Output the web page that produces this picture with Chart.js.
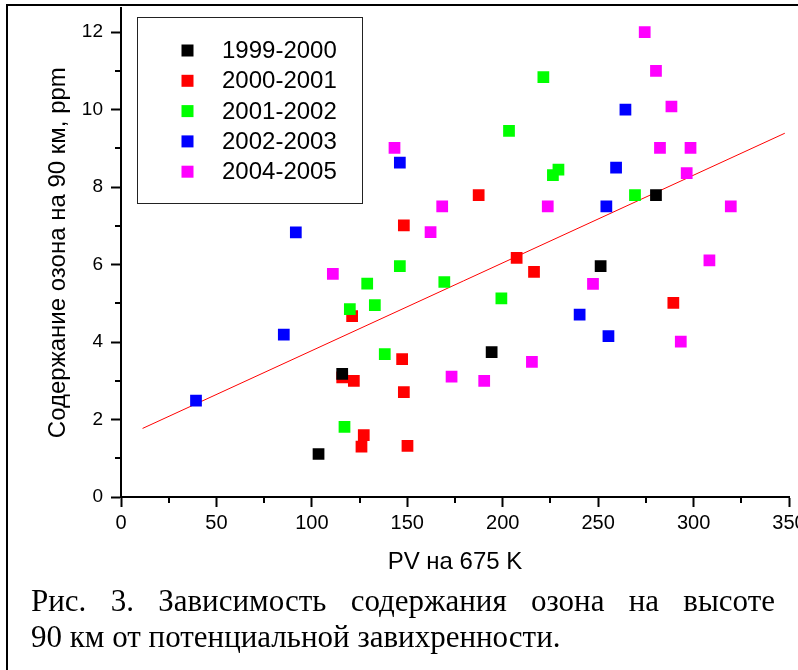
<!DOCTYPE html>
<html>
<head>
<meta charset="utf-8">
<script src="https://cdn.jsdelivr.net/npm/chart.js@4.4.0/dist/chart.umd.min.js"></script>
<style>
  html, body { margin: 0; padding: 0; background: #fff; overflow: hidden; }
  body { width: 798px; height: 670px; position: relative; }
  #frame { position: absolute; left: 6px; top: 4px; width: 900px; height: 800px;
           border-left: 2px solid #000; border-top: 2px solid #000; }
  #wrap { position: absolute; left: 0; top: 0; width: 830px; height: 600px; }
  .cap { position: absolute; left: 31px; font-family: "Liberation Serif", "Times New Roman", serif;
         font-size: 31px; line-height: 36px; color: #000; }
  #cap1 { top: 583px; width: 744px; text-align: justify; text-align-last: justify; }
  #cap2 { top: 619px; white-space: nowrap; }
</style>
</head>
<body>
<div id="frame"></div>
<div id="wrap"><canvas id="chart"></canvas></div>
<div class="cap" id="cap1">Рис. 3. Зависимость содержания озона на высоте</div>
<div class="cap" id="cap2">90 км от потенциальной завихренности.</div>
<script>
// series names / colours
const seriesNames = ['1999-2000', '2000-2001', '2001-2002', '2002-2003', '2004-2005'];
const seriesColors = ['#000000', '#ff0000', '#00ff00', '#0000ff', '#ff00ff'];

// PV at 675 K (x) and ozone at 90 km, ppm (y)
const pv1999 = [103.5, 115.9, 194.2, 251.3, 280.3];
const o3_1999 = [1.11, 3.18, 3.74, 5.96, 7.79];

const pv2000 = [115.9, 122.0, 121.1, 127.2, 126.0, 147.3, 148.2, 150.1, 148.2, 187.4, 207.3, 216.4, 289.4];
const o3_2000 = [3.09, 3.00, 4.67, 1.60, 1.30, 3.56, 2.71, 1.32, 7.01, 7.79, 6.17, 5.81, 5.01];

const pv2001 = [117.1, 119.9, 129.0, 133.0, 138.2, 146.1, 169.4, 199.3, 203.3, 221.3, 229.2, 226.3, 269.3];
const o3_2001 = [1.81, 4.85, 5.51, 4.95, 3.69, 5.96, 5.55, 5.13, 9.45, 10.84, 8.45, 8.31, 7.79];

const pv2002 = [39.3, 85.3, 91.6, 146.1, 240.3, 255.4, 254.3, 259.4, 264.3];
const o3_2002 = [2.49, 4.19, 6.83, 8.63, 4.71, 4.15, 7.50, 8.50, 10.00];

const pv2004 = [111.0, 143.3, 162.2, 168.3, 173.2, 190.3, 215.3, 223.6, 247.3, 274.4, 280.3, 288.4, 282.4, 298.4, 296.4, 319.5, 308.3, 293.3];
const o3_2004 = [5.76, 9.01, 6.84, 7.50, 3.11, 3.00, 3.49, 7.50, 5.50, 12.00, 11.00, 10.08, 9.01, 9.01, 8.36, 7.50, 6.11, 4.01];

// linear fit, end points
const fitPV = [11.3, 347.8];
const fitO3 = [1.77, 9.39];

// axis ticks
const xTicks = [0, 50, 100, 150, 200, 250, 300, 350];
const yTicks = [0, 2, 4, 6, 8, 10, 12];
const xMinor = [25, 75, 125, 175, 225, 275, 325];
const yMinor = [1, 3, 5, 7, 9, 11];

const pts = (xs, ys) => xs.map((x, i) => ({ x: x, y: ys[i] }));
const allX = [pv1999, pv2000, pv2001, pv2002, pv2004];
const allY = [o3_1999, o3_2000, o3_2001, o3_2002, o3_2004];
// red drawn lowest, then the others (black on top)
const drawOrder = [0, 5, 0, 0, 0];

const datasets = seriesNames.map((name, i) => ({
  label: name,
  data: pts(allX[i], allY[i]),
  backgroundColor: seriesColors[i],
  borderColor: seriesColors[i],
  borderWidth: 0,
  pointStyle: 'rect',
  pointRadius: 8.3,
  pointHoverRadius: 8.3,
  order: drawOrder[i]
}));
datasets.push({
  type: 'line',
  label: 'fit',
  data: pts(fitPV, fitO3),
  borderColor: '#ff0000',
  borderWidth: 1,
  pointRadius: 0,
  fill: false,
  order: 9
});

const FONT = '"Liberation Sans", Arial, sans-serif';
Chart.defaults.font.family = FONT;
Chart.defaults.color = '#000';

// short minor ticks on both axes
const minorTicks = {
  id: 'minorTicks',
  afterDraw(chart) {
    const { ctx } = chart;
    const x = chart.scales.x, y = chart.scales.y;
    ctx.save();
    ctx.strokeStyle = '#000';
    ctx.lineWidth = 2;
    ctx.beginPath();
    xMinor.forEach(v => {
      const px = Math.round(x.getPixelForValue(v));
      ctx.moveTo(px, y.bottom);
      ctx.lineTo(px, y.bottom + 6);
    });
    yMinor.forEach(v => {
      const py = Math.round(y.getPixelForValue(v));
      ctx.moveTo(x.left, py);
      ctx.lineTo(x.left - 6, py);
    });
    ctx.stroke();
    ctx.restore();
  }
};

// framed legend in the upper left of the plot
const boxLegend = {
  id: 'boxLegend',
  afterDraw(chart, args, opts) {
    const { ctx } = chart;
    ctx.save();
    ctx.fillStyle = '#fff';
    ctx.fillRect(opts.left, opts.top, opts.width, opts.height);
    ctx.strokeStyle = '#222';
    ctx.lineWidth = 1;
    ctx.strokeRect(opts.left + 0.5, opts.top + 0.5, opts.width, opts.height);
    ctx.font = opts.fontSize + 'px ' + FONT;
    ctx.textBaseline = 'middle';
    ctx.textAlign = 'left';
    seriesNames.forEach((name, i) => {
      const cy = opts.firstRow + i * opts.rowStep;
      ctx.fillStyle = seriesColors[i];
      ctx.fillRect(opts.markerX - opts.marker / 2, cy - opts.marker / 2, opts.marker, opts.marker);
      ctx.fillStyle = '#000';
      ctx.fillText(name, opts.textX, cy + 1);
    });
    ctx.restore();
  }
};

new Chart(document.getElementById('chart'), {
  type: 'scatter',
  data: { datasets: datasets },
  plugins: [minorTicks, boxLegend],
  options: {
    responsive: true,
    maintainAspectRatio: false,
    animation: false,
    layout: { padding: { top: 5, right: 41, left: 0, bottom: 0 } },
    plugins: {
      legend: { display: false },
      tooltip: { enabled: false },
      boxLegend: { left: 137, top: 17, width: 225, height: 186, firstRow: 50.5, rowStep: 30.3,
                   markerX: 187.5, marker: 12, textX: 222, fontSize: 24 }
    },
    scales: {
      x: {
        type: 'linear',
        min: 0,
        max: 350,
        afterFit: s => { s.height = 103; s.paddingLeft = 0; s.paddingRight = 0; },
        afterBuildTicks: s => { s.ticks = xTicks.map(v => ({ value: v })); },
        ticks: { font: { size: 20 }, padding: 4, maxRotation: 0, autoSkip: false },
        grid: { drawOnChartArea: false, drawTicks: true, tickLength: 10, tickWidth: 2, tickColor: '#000' },
        border: { display: true, color: '#000', width: 2 },
        title: { display: true, text: 'PV на 675 K', font: { size: 24 }, padding: { top: 0, bottom: 23 } }
      },
      y: {
        type: 'linear',
        min: 0,
        max: 12.615,
        afterFit: s => { s.width = 121; s.paddingTop = 0; s.paddingBottom = 0; },
        afterBuildTicks: s => { s.ticks = yTicks.map(v => ({ value: v })); },
        ticks: { font: { size: 19 }, padding: 8, autoSkip: false },
        grid: { drawOnChartArea: false, drawTicks: true, tickLength: 10, tickWidth: 2, tickColor: '#000' },
        border: { display: true, color: '#000', width: 2 },
        title: { display: true, text: 'Содержание озона на 90 км, ppm', font: { size: 24 }, padding: { top: 44, bottom: 0 } }
      }
    }
  }
});
</script>
</body>
</html>
